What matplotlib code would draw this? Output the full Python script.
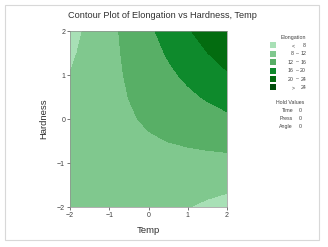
import numpy as np
import matplotlib
matplotlib.use("Agg")
import matplotlib.pyplot as plt
from matplotlib.patches import Rectangle

# grid (Temp across, Hardness down the rows)
temp = [-2, -1.5, -1, -0.5, 0, 0.5, 1, 1.5, 2]
hardness = [-2, -1.5, -1, -0.5, 0, 0.5, 1, 1.5, 2]
elong = [
    [11.0, 11.2, 10.96, 10.24, 9.52, 8.80, 8.08, 7.36, 6.64],
    [11.2, 11.1, 10.96, 10.60, 10.24, 9.88, 9.52, 9.16, 8.80],
    [10.96, 10.96, 10.96, 10.96, 10.96, 10.96, 10.96, 10.96, 10.96],
    [10.24, 10.60, 10.96, 11.32, 11.68, 12.04, 12.40, 12.76, 13.12],
    [9.52, 10.24, 10.96, 11.68, 12.40, 13.12, 13.84, 14.56, 15.28],
    [8.80, 9.88, 10.96, 12.04, 13.12, 14.20, 15.28, 16.36, 17.44],
    [8.08, 9.52, 10.96, 12.40, 13.84, 15.28, 16.72, 18.16, 19.60],
    [7.36, 9.16, 10.96, 12.76, 14.56, 16.36, 18.16, 19.96, 21.76],
    [6.64, 8.80, 10.96, 13.12, 15.28, 17.44, 19.60, 21.76, 23.92],
]
levels = [0, 8, 12, 16, 20, 24, 40]
labels = [("<", "8"), ("8", "12"), ("12", "16"), ("16", "20"), ("20", "24"), (">", "24")]
colors = ["#a8e0b6", "#80c88e", "#58af66", "#0e8a2c", "#036c10", "#004d0a"]
hold = [("Time", 0), ("Press", 0), ("Angle", 0)]

plt.rcParams['font.family'] = ['Liberation Sans', 'DejaVu Sans']

W, H = 328, 247
fig = plt.figure(figsize=(W / 100, H / 100), dpi=100)
fig.patch.set_facecolor("white")

def fx(px):
    return px / W

def fy(py):
    return 1 - py / H

# outer frame
fig.patches.append(Rectangle((fx(5), fy(240)), fx(314), (235) / H, transform=fig.transFigure,
                             fill=False, edgecolor="#d8d8d8", lw=0.8))

ax = fig.add_axes([fx(70), fy(207), fx(157), 176 / H])
X, Y = np.meshgrid(temp, hardness)
ax.contourf(X, Y, np.array(elong), levels=levels, colors=colors)
ax.set_xlim(-2, 2)
ax.set_ylim(-2, 2)
ax.set_xticks([-2, -1, 0, 1, 2])
ax.set_yticks([-2, -1, 0, 1, 2])
ax.tick_params(labelsize=5, length=2, width=0.5, pad=1.5, colors="#404040")
for s in ax.spines.values():
    s.set_color("#909090")
    s.set_linewidth(0.5)
ax.set_xlabel("Temp", fontsize=6.8, color="#303030", labelpad=5)
ax.set_ylabel("Hardness", fontsize=6.8, color="#303030", labelpad=6)

fig.text(fx(162), fy(16), "Contour Plot of Elongation vs Hardness, Temp",
         ha="center", va="center", fontsize=6.6, color="#303030")

# legend
fs = 3.8
fig.text(fx(293), fy(37), "Elongation", ha="center", va="center", fontsize=fs, color="#404040")
for i, (lo, hi) in enumerate(labels):
    yc = 45.5 + 8.4 * i
    fig.patches.append(Rectangle((fx(270), fy(yc + 3)), fx(6), 6 / H, transform=fig.transFigure,
                                 facecolor=colors[i], edgecolor="none"))
    if lo in ("<", ">"):
        fig.text(fx(293), fy(yc), lo, ha="center", va="center", fontsize=fs, color="#404040")
    else:
        fig.text(fx(293.5), fy(yc), lo, ha="right", va="center", fontsize=fs, color="#404040")
        fig.text(fx(297.5), fy(yc), "–", ha="center", va="center", fontsize=fs, color="#404040")
    fig.text(fx(306), fy(yc), hi, ha="right", va="center", fontsize=fs, color="#404040")

fig.text(fx(290), fy(102), "Hold Values", ha="center", va="center", fontsize=fs, color="#404040")
for i, (name, val) in enumerate(hold):
    yc = 110 + 8 * i
    fig.text(fx(293), fy(yc), name, ha="right", va="center", fontsize=fs, color="#404040")
    fig.text(fx(300), fy(yc), str(val), ha="center", va="center", fontsize=fs, color="#404040")

fig.savefig("out.png", dpi=100)
